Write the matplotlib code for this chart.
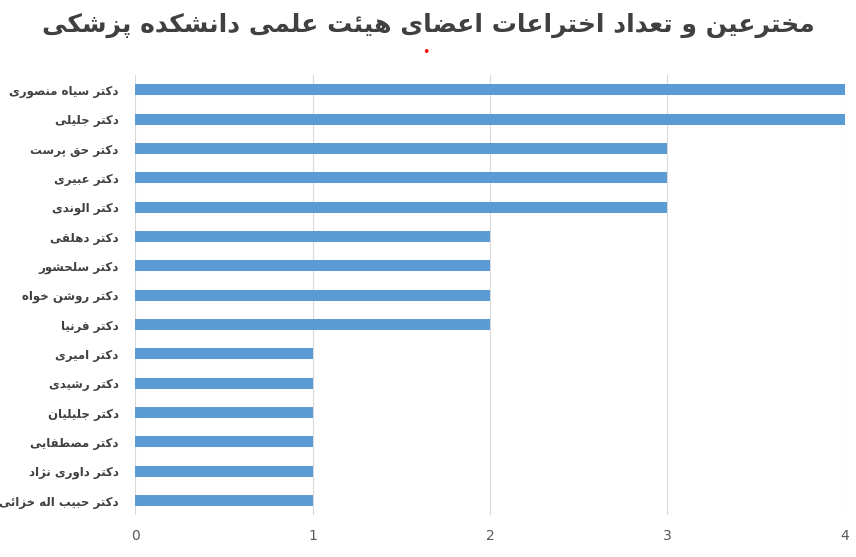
import matplotlib
matplotlib.use("Agg")
import matplotlib.pyplot as plt

title = "مخترعین و تعداد اختراعات اعضای هیئت علمی دانشکده پزشکی"
names = ["دکتر سیاه منصوری", "دکتر جلیلی", "دکتر حق پرست", "دکتر عبیری", "دکتر الوندی",
         "دکتر دهلقی", "دکتر سلحشور", "دکتر روشن خواه", "دکتر فرنیا", "دکتر امیری",
         "دکتر رشیدی", "دکتر جلیلیان", "دکتر مصطفایی", "دکتر داوری نژاد", "دکتر حبیب اله خزائی"]
values = [4, 4, 3, 3, 3, 2, 2, 2, 2, 1, 1, 1, 1, 1, 1]
xticks = [0, 1, 2, 3, 4]

FORMS = {
    'ا': (0xFE8D, 0xFE8E), 'آ': (0xFE81, 0xFE82), 'د': (0xFEA9, 0xFEAA), 'ذ': (0xFEAB, 0xFEAC),
    'ر': (0xFEAD, 0xFEAE), 'ز': (0xFEAF, 0xFEB0), 'ژ': (0xFB8A, 0xFB8B), 'و': (0xFEED, 0xFEEE),
    'ب': (0xFE8F, 0xFE90, 0xFE91, 0xFE92), 'پ': (0xFB56, 0xFB57, 0xFB58, 0xFB59),
    'ت': (0xFE95, 0xFE96, 0xFE97, 0xFE98), 'ث': (0xFE99, 0xFE9A, 0xFE9B, 0xFE9C),
    'ج': (0xFE9D, 0xFE9E, 0xFE9F, 0xFEA0), 'ح': (0xFEA1, 0xFEA2, 0xFEA3, 0xFEA4),
    'خ': (0xFEA5, 0xFEA6, 0xFEA7, 0xFEA8), 'س': (0xFEB1, 0xFEB2, 0xFEB3, 0xFEB4),
    'ش': (0xFEB5, 0xFEB6, 0xFEB7, 0xFEB8), 'ص': (0xFEB9, 0xFEBA, 0xFEBB, 0xFEBC),
    'ض': (0xFEBD, 0xFEBE, 0xFEBF, 0xFEC0), 'ط': (0xFEC1, 0xFEC2, 0xFEC3, 0xFEC4),
    'ظ': (0xFEC5, 0xFEC6, 0xFEC7, 0xFEC8), 'ع': (0xFEC9, 0xFECA, 0xFECB, 0xFECC),
    'غ': (0xFECD, 0xFECE, 0xFECF, 0xFED0), 'ف': (0xFED1, 0xFED2, 0xFED3, 0xFED4),
    'ق': (0xFED5, 0xFED6, 0xFED7, 0xFED8), 'ک': (0xFB8E, 0xFB8F, 0xFB90, 0xFB91),
    'گ': (0xFB92, 0xFB93, 0xFB94, 0xFB95), 'ل': (0xFEDD, 0xFEDE, 0xFEDF, 0xFEE0),
    'م': (0xFEE1, 0xFEE2, 0xFEE3, 0xFEE4), 'ن': (0xFEE5, 0xFEE6, 0xFEE7, 0xFEE8),
    'ه': (0xFEE9, 0xFEEA, 0xFEEB, 0xFEEC), 'ی': (0xFBFC, 0xFBFD, 0xFBFE, 0xFBFF),
    'ئ': (0xFE89, 0xFE8A, 0xFE8B, 0xFE8C), 'ء': (0xFE80,),
}

def shape(s):
    out = []
    n = len(s)
    for i, c in enumerate(s):
        f = FORMS.get(c)
        if f is None:
            out.append(c); continue
        prev = s[i - 1] if i > 0 else None
        nxt = s[i + 1] if i < n - 1 else None
        jp = prev is not None and prev in FORMS and len(FORMS[prev]) == 4
        jn = nxt is not None and nxt in FORMS and len(f) == 4 and len(FORMS[nxt]) > 1
        if len(f) == 1:
            out.append(chr(f[0]))
        elif len(f) == 2:
            out.append(chr(f[1] if jp else f[0]))
        else:
            if jp and jn: k = 3
            elif jp: k = 1
            elif jn: k = 2
            else: k = 0
            out.append(chr(f[k]))
    return ''.join(reversed(out))

plt.rcParams['font.family'] = ['DejaVu Sans']
fig = plt.figure(figsize=(8.56, 5.57), dpi=100)
ax = fig.add_axes([0.158, 0.075, 0.829, 0.79])
y = list(range(len(names)))
ax.barh(y, values, height=0.38, color='#5B9BD5', zorder=3)
ax.set_yticks(y)
ax.set_yticklabels([shape(n) for n in names], fontsize=8.5, fontweight='bold', color='#404040')
ax.set_ylim(len(names) - 0.5, -0.5)
ax.set_xlim(0, 4)
ax.set_xticks(xticks)
ax.tick_params(axis='x', labelsize=10, colors='#595959', length=0, pad=10)
ax.tick_params(axis='y', length=0, pad=12)
ax.grid(axis='x', color='#D9D9D9', linewidth=0.8, zorder=0)
for sp in ax.spines.values():
    sp.set_visible(False)
fig.text(0.5, 0.955, shape(title), ha='center', va='center', fontsize=18, fontweight='bold', color='#404040')
fig.text(0.498, 0.905, '•', ha='center', va='center', fontsize=9, color='red')
fig.savefig('out.png', dpi=100, facecolor='white')
